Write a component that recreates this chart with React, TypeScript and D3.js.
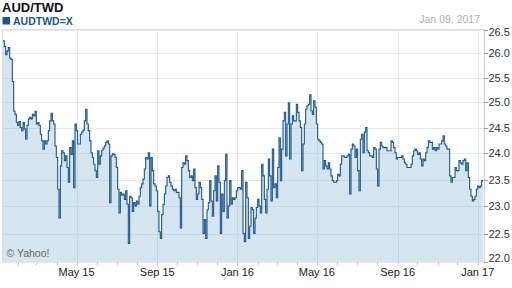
import React from "react";
import * as d3 from "d3";

const title = "AUD/TWD";
const symbol = "AUDTWD=X";
const dateLabel = "Jan 09, 2017";
const credit = "\u00a9 Yahoo!";
const startDate = new Date(2015, 0, 9);
const endDate = new Date(2017, 0, 9);
const yTicks = [22.0, 22.5, 23.0, 23.5, 24.0, 24.5, 25.0, 25.5, 26.0, 26.5];

const rates2015a = [
  26.26, 26.14, 25.97, 26.05, 26.12, 25.90, 25.87, 25.42, 24.82, 24.76,
  24.60, 24.54, 24.62, 24.50, 24.44, 24.60, 24.47, 24.27, 24.54, 24.67,
  24.70, 24.67, 24.76, 24.73, 24.82, 24.57, 24.60, 24.54, 24.37, 24.24,
  24.08, 24.24, 24.18, 24.24, 24.44, 24.63, 24.78, 24.63, 24.57, 24.14,
  23.92, 23.32, 22.79, 23.76, 24.05, 24.01, 23.86, 23.95, 23.73, 23.45,
  24.11, 23.98, 24.24, 23.35, 24.57, 24.44, 24.18, 24.18, 24.37, 24.41,
  24.45, 24.63, 24.86, 24.57, 24.44, 24.24, 24.01, 23.92, 23.79, 23.67,
  23.54, 24.05, 23.79, 23.95, 24.06, 24.10, 24.14, 24.21, 24.24, 24.18,
  23.07, 23.95, 23.99, 23.98, 23.92, 23.73, 23.32, 22.88, 23.26, 23.21,
  23.23, 23.13,
];
const rates2015b = [
  23.29, 23.04, 22.33, 23.19, 23.16, 22.91, 23.07, 23.01, 23.10, 23.04,
  23.19, 23.35, 23.42, 23.51, 23.70, 23.92, 23.89, 24.01, 23.01, 23.92,
  23.67, 23.42, 23.38, 23.29, 22.91, 22.54, 22.42, 22.85, 23.04, 23.23,
  23.38, 23.54, 23.57, 23.45, 23.38, 23.32, 23.29, 23.32, 23.26, 23.26,
  23.16, 22.61, 23.73, 23.82, 23.79, 23.95, 23.86, 23.67, 23.54, 23.57,
  23.48, 23.70, 23.35, 23.13, 23.23, 23.45, 23.35, 23.13, 22.51, 22.76,
  22.42, 22.94, 23.07, 23.48, 23.10, 22.82, 23.29, 23.57, 23.10, 23.76,
  23.45, 22.51, 23.23, 22.91, 23.48, 23.98, 22.79, 23.01, 23.48, 23.04,
  23.16, 23.13, 23.16, 23.29, 23.35, 23.35, 23.32, 23.67, 22.51, 22.36,
];
const rates2016a = [
  23.45, 23.16, 22.42, 22.64, 22.98, 22.94, 22.51, 22.79, 22.98, 23.13,
  23.01, 22.88, 23.79, 23.57, 23.13, 22.88, 23.32, 23.89, 23.57, 23.10,
  24.08, 23.35, 23.42, 23.16, 23.73, 24.30, 23.48, 24.08, 24.63, 24.80,
  23.95, 24.57, 24.99, 23.89, 24.57, 24.73, 24.63, 24.63, 24.96, 24.80,
  24.63, 24.50, 23.67, 24.18, 24.57, 24.86, 24.93, 24.96, 25.15, 24.83,
  24.76, 25.03, 24.90, 24.57, 24.27, 24.24, 24.21, 24.18, 23.70, 23.86,
  23.76, 23.70, 23.82, 23.70, 23.57, 23.48, 23.45, 23.45, 23.48, 23.60,
  23.57, 23.79, 23.95, 23.95, 23.92, 23.92, 23.95, 23.98, 23.23, 24.08,
  24.18, 24.14, 23.92, 24.08, 23.67, 23.29, 24.27, 24.37, 24.01, 24.41,
];
const rates2016b = [
  24.50, 24.05, 24.01, 23.95, 23.95, 23.92, 24.11, 24.08, 23.70, 23.38,
  24.08, 24.21, 24.14, 24.11, 24.11, 24.11, 24.05, 24.05, 24.05, 24.24,
  24.21, 24.11, 24.01, 23.89, 23.92, 23.92, 23.92, 23.95, 23.89, 23.82,
  23.79, 23.73, 23.73, 23.73, 23.79, 23.95, 24.05, 24.08, 24.05, 23.98,
  24.01, 23.89, 23.76, 23.89, 23.86, 24.01, 24.11, 24.24, 24.21, 24.21,
  24.08, 24.11, 24.05, 24.11, 24.08, 24.18, 24.18, 24.24, 24.34, 24.18,
  24.14, 24.08, 24.08, 23.57, 23.45, 23.54, 23.54, 23.73, 23.67, 23.67,
  23.86, 23.82, 23.79, 23.86, 23.89, 23.67, 23.82, 23.54, 23.32, 23.19,
  23.10, 23.13, 23.19, 23.32, 23.38, 23.35, 23.38, 23.48, 23.48,
];

const rates = [...rates2015a, ...rates2015b, ...rates2016a, ...rates2016b];
const span = endDate.getTime() - startDate.getTime();
const data = rates.map((v, i) => ({
  date: new Date(startDate.getTime() + (i * span) / (rates.length - 1)),
  value: v,
}));

const W = 512;
const H = 288;
const plotLeft = 2;
const plotRight = 484;
const plotTop = 29.5;
const plotBottom = 262;

const FONT = "'Liberation Sans', Arial, Helvetica, sans-serif";
const LINE = "#1b5590";

export default function App() {
  const x = d3.scaleTime().domain([startDate, endDate]).range([3, 483]);
  const y = d3.scaleLog().domain([22, 26.5]).range([plotBottom, plotTop]);

  const area = d3
    .area<{ date: Date; value: number }>()
    .curve(d3.curveStepAfter)
    .x((d) => x(d.date))
    .y0(plotBottom)
    .y1((d) => y(d.value));
  const line = d3
    .line<{ date: Date; value: number }>()
    .curve(d3.curveStepAfter)
    .x((d) => x(d.date))
    .y((d) => y(d.value));

  const months = d3.timeMonth.range(d3.timeMonth.ceil(startDate), endDate);
  const major = months.filter((m) => m.getMonth() % 4 === 0);
  const fmt = d3.timeFormat("%b %y");

  return (
    <svg
      width={W}
      height={H}
      style={{ position: "absolute", left: 0, top: 0, background: "#fff" }}
      fontFamily={FONT}
    >
      <text x={2} y={12} fontSize={13} fontWeight="bold" fill="#111">
        {title}
      </text>
      <rect x={2.5} y={17} width={7.5} height={7.5} fill={LINE} />
      <text x={13} y={24.5} fontSize={10.5} fontWeight="bold" fill={LINE}>
        {symbol}
      </text>
      <text x={480} y={23} fontSize={10.5} fill="#b0b0b0" textAnchor="end">
        {dateLabel}
      </text>

      {yTicks.map((t) => (
        <line
          key={"hg" + t}
          x1={plotLeft}
          x2={plotRight}
          y1={Math.round(y(t)) + 0.5}
          y2={Math.round(y(t)) + 0.5}
          stroke="#e3e9f1"
          strokeWidth={1}
        />
      ))}
      {major.map((m) => (
        <line
          key={"vg" + m.getTime()}
          x1={Math.round(x(m)) + 0.5}
          x2={Math.round(x(m)) + 0.5}
          y1={plotTop}
          y2={plotBottom}
          stroke="#e3e9f1"
          strokeWidth={1}
        />
      ))}
      <line x1={plotLeft + 0.5} x2={plotLeft + 0.5} y1={plotTop} y2={plotBottom} stroke="#dcdcdc" />
      <line x1={plotLeft} x2={plotRight} y1={plotTop} y2={plotTop} stroke="#dcdcdc" />

      <path d={area(data) || ""} fill="rgb(118,172,208)" fillOpacity={0.3} />
      <path d={line(data) || ""} fill="none" stroke={LINE} strokeWidth={1.1} />

      <line x1={plotRight + 0.5} x2={plotRight + 0.5} y1={plotTop} y2={plotBottom} stroke="#d0d0d0" />
      {yTicks.map((t, i) => {
        const yy = Math.round(y(t)) + 0.5;
        const ly = i === 0 ? Math.min(yy, 258.5) : i === yTicks.length - 1 ? Math.max(yy, 32) : yy;
        return (
          <g key={"yt" + t}>
            <line x1={plotRight} x2={plotRight + 4} y1={yy} y2={yy} stroke="#999" />
            <text x={488.5} y={ly} dy="0.35em" fontSize={11} fill="#333">
              {t.toFixed(1)}
            </text>
          </g>
        );
      })}

      {months.map((m) => (
        <line
          key={"mt" + m.getTime()}
          x1={Math.round(x(m)) + 0.5}
          x2={Math.round(x(m)) + 0.5}
          y1={plotBottom}
          y2={plotBottom + 3.5}
          stroke="#c8c8c8"
        />
      ))}
      {major.map((m) => (
        <text
          key={"ml" + m.getTime()}
          x={x(m)}
          y={276}
          fontSize={11}
          fill="#222"
          textAnchor="middle"
        >
          {fmt(m)}
        </text>
      ))}

      <text x={6.5} y={256.5} fontSize={10.5} fill="#666">
        {credit}
      </text>
    </svg>
  );
}
